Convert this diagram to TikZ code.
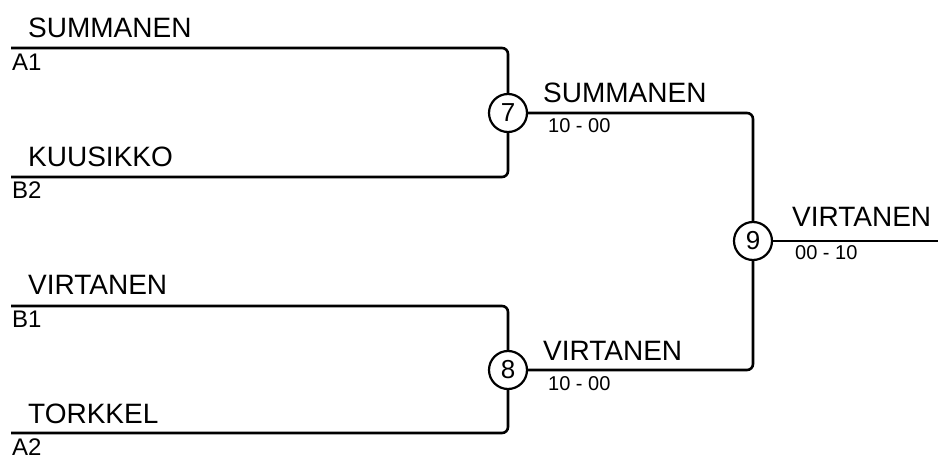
\documentclass[tikz,border=0pt]{standalone}
\usepackage{fontspec}
\setmainfont{Liberation Sans}
\begin{document}
\begin{tikzpicture}[x=1pt,y=-1pt,
  pname/.style={anchor=base west,inner sep=0pt,font=\fontsize{28}{32}\selectfont},
  seed/.style={anchor=base west,inner sep=0pt,font=\fontsize{24}{28}\selectfont},
  score/.style={anchor=base west,inner sep=0pt,font=\fontsize{20}{24}\selectfont},
  match/.style={circle,draw,line width=2.2pt,minimum size=38pt,inner sep=0pt,font=\fontsize{26}{28}\selectfont},
  wire/.style={line width=2.6pt,rounded corners=6pt}]
\useasboundingbox (0,0) rectangle (938,457);
% match circles
\node[match] (c7) at (508,113) {7};
\node[match] (c8) at (508,370) {8};
\node[match] (c9) at (753,241) {9};
% line start points
\coordinate (s1) at (11,48);
\coordinate (s2) at (11,177);
\coordinate (s3) at (11,306);
\coordinate (s4) at (11,433);
\coordinate (fin) at (938,241);
% connectors
\draw[wire] (s1) -| (c7.north);
\draw[wire] (s2) -| (c7.south);
\draw[wire] (s3) -| (c8.north);
\draw[wire] (s4) -| (c8.south);
\draw[wire] (c7.east) -| (c9.north);
\draw[wire] (c8.east) -| (c9.south);
\draw[wire] (c9.east) -- (fin);
% names
\node[pname] (n1) at (28,38) {SUMMANEN};
\node[seed] (d1) at (12,71) {A1};
\node[pname] (n2) at (28,167) {KUUSIKKO};
\node[seed] (d2) at (12,199) {B2};
\node[pname] (n3) at (28,295) {VIRTANEN};
\node[seed] (d3) at (12,328) {B1};
\node[pname] (n4) at (28,423) {TORKKEL};
\node[seed] (d4) at (12,455) {A2};
% winners
\node[pname] (w7) at (543,103) {SUMMANEN};
\node[score] (r7) at (548,133) {10 - 00};
\node[pname] (w8) at (543,360) {VIRTANEN};
\node[score] (r8) at (548,390) {10 - 00};
\node[pname] (w9) at (792,227) {VIRTANEN};
\node[score] (r9) at (795,260) {00 - 10};
\end{tikzpicture}
\end{document}
